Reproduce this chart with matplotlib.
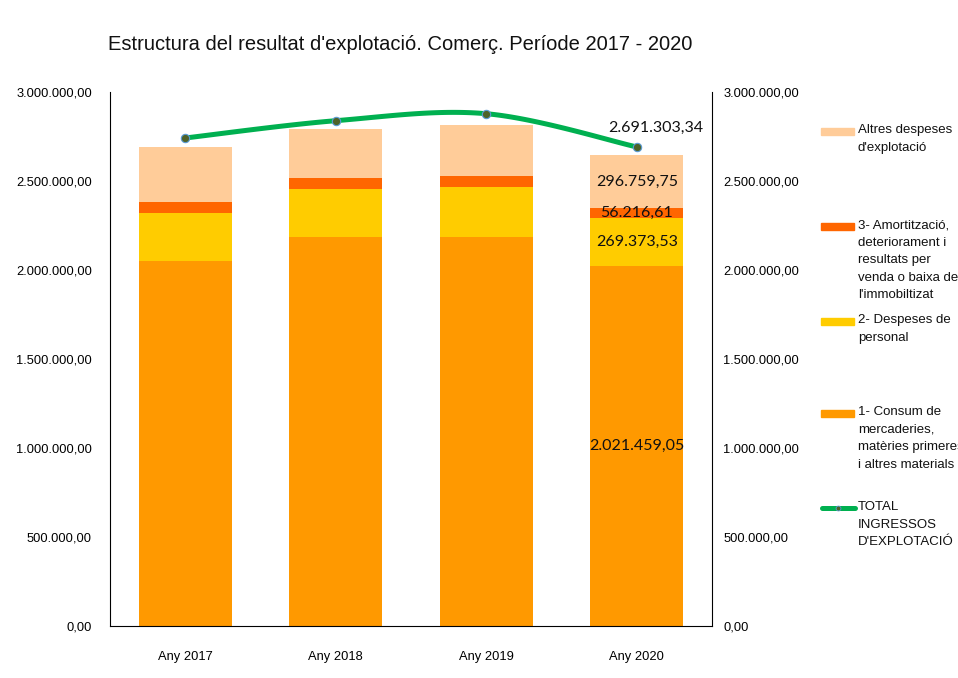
import numpy as np
import matplotlib
matplotlib.use("Agg")
import matplotlib.pyplot as plt
from matplotlib.patches import Rectangle
from matplotlib.lines import Line2D

categories = ["Any 2017", "Any 2018", "Any 2019", "Any 2020"]
consum = [2049000, 2185400, 2186000, 2021459.05]
personal = [273000, 271300, 281000, 269373.53]
amortitzacio = [60100, 61800, 63500, 56216.61]
altres = [307300, 273600, 284800, 296759.75]
ingressos = [2741600, 2838800, 2878000, 2691303.34]

labels = ["Altres despeses\nd'explotació",
          "3- Amortització,\ndeteriorament i\nresultats per\nvenda o baixa de\nl'immobiltizat",
          "2- Despeses de\npersonal",
          "1- Consum de\nmercaderies,\nmatèries primeres\ni altres materials",
          "TOTAL\nINGRESSOS\nD'EXPLOTACIÓ"]

c_consum = "#FF9900"
c_pers = "#FFCC00"
c_amort = "#FF6600"
c_altres = "#FFCC99"
c_line = "#00B050"

plt.rcParams['font.family'] = ['Liberation Sans', 'DejaVu Sans']

def fmt(v):
    s = f"{v:,.2f}"
    return s.replace(",", "X").replace(".", ",").replace("X", ".")

fig = plt.figure(figsize=(9.58, 6.78), dpi=100)
ax = fig.add_axes([110/958, 1-626/678, 602/958, 534/678])
x = np.arange(len(categories))
w = 0.615
b1 = np.array(consum)
b2 = b1 + np.array(personal)
b3 = b2 + np.array(amortitzacio)
ax.bar(x, consum, w, color=c_consum, zorder=2)
ax.bar(x, personal, w, bottom=b1, color=c_pers, zorder=2)
ax.bar(x, amortitzacio, w, bottom=b2, color=c_amort, zorder=2)
ax.bar(x, altres, w, bottom=b3, color=c_altres, zorder=2)

ax.set_xlim(-0.5, 3.5)
ax.set_ylim(0, 3000000)
yt = np.arange(0, 3000001, 500000)
ax.set_yticks(yt)
ax.set_yticklabels([fmt(v) for v in yt], fontsize=9.3)
ax.set_xticks(x)
ax.set_xticklabels(categories, fontsize=9.3)
ax.tick_params(axis='y', length=0, pad=13)
ax.tick_params(axis='x', length=0, pad=18)
for s in ['top', 'right']:
    ax.spines[s].set_visible(False)
for s in ['left', 'bottom']:
    ax.spines[s].set_color('#000000')
    ax.spines[s].set_linewidth(0.8)

# data labels for last year
i = 3
lf = dict(fontsize=11.5, family=['Lato', 'DejaVu Sans'], ha='center', va='center', color='#111111', zorder=5)
ax.text(x[i], consum[i] / 2, fmt(consum[i]), **lf)
ax.text(x[i], b1[i] + personal[i] / 2, fmt(personal[i]), **lf)
ax.text(x[i], b2[i] + amortitzacio[i] / 2, fmt(amortitzacio[i]), **lf)
ax.text(x[i], b3[i] + altres[i] / 2, fmt(altres[i]), **lf)

ax2 = ax.twinx()
ax2.set_ylim(0, 3000000)
ax2.set_yticks(yt)
ax2.set_yticklabels([fmt(v) for v in yt], fontsize=9.3)
ax2.tick_params(axis='y', length=0, pad=8)
for s in ['top', 'left', 'bottom']:
    ax2.spines[s].set_visible(False)
ax2.spines['right'].set_color('#000000')
ax2.spines['right'].set_linewidth(0.8)

# Catmull-Rom smoothing of the line (like Excel's smoothed line)
P = np.column_stack([x.astype(float), np.array(ingressos, dtype=float)])
Pext = np.vstack([P[0], P, P[-1]])
cx, cy = [], []
for k in range(1, len(Pext) - 2):
    p0, p1, p2, p3 = Pext[k-1], Pext[k], Pext[k+1], Pext[k+2]
    t = np.linspace(0, 1, 40)[:, None]
    pt = 0.5 * ((2*p1) + (-p0 + p2)*t + (2*p0 - 5*p1 + 4*p2 - p3)*t**2 + (-p0 + 3*p1 - 3*p2 + p3)*t**3)
    cx.extend(pt[:, 0]); cy.extend(pt[:, 1])
ax2.plot(cx, cy, color=c_line, lw=3.6, solid_capstyle='round', zorder=3)
ax2.plot(x, ingressos, 'o', ms=6, mfc='#4F6228', mec='#5B9BD5', mew=0.8, zorder=4)
ax2.annotate(fmt(ingressos[3]), (x[3], ingressos[3]), xytext=(14, 14), textcoords='offset points',
             fontsize=11.5, family=['Lato', 'DejaVu Sans'], ha='center', va='center', color='#111111')

fig.text(108/958, 1-44/678, "Estructura del resultat d'explotació. Comerç. Període 2017 - 2020",
         fontsize=14.5, ha='left', va='center', color='#111111')

# legend
lax = fig.add_axes([0, 0, 1, 1])
lax.set_xlim(0, 958)
lax.set_ylim(678, 0)
lax.axis('off')
lax.patch.set_visible(False)
cols = [c_altres, c_amort, c_pers, c_consum]
ys = [131, 226, 321, 413, 508]
for j in range(5):
    if j < 4:
        lax.add_patch(Rectangle((821, ys[j]-3), 33, 7, color=cols[j]))
    else:
        lax.add_line(Line2D([822, 855], [ys[j], ys[j]], color=c_line, lw=3.6, solid_capstyle='round'))
        lax.plot([838], [ys[j]], 'o', ms=3.5, mfc='#4F6228', mec='#5B9BD5', mew=0.6)
    lax.text(858, ys[j]-7, labels[j], fontsize=9.5, ha='left', va='top', linespacing=1.62, color='#111111')

fig.savefig("out.png", dpi=100, facecolor='white')
